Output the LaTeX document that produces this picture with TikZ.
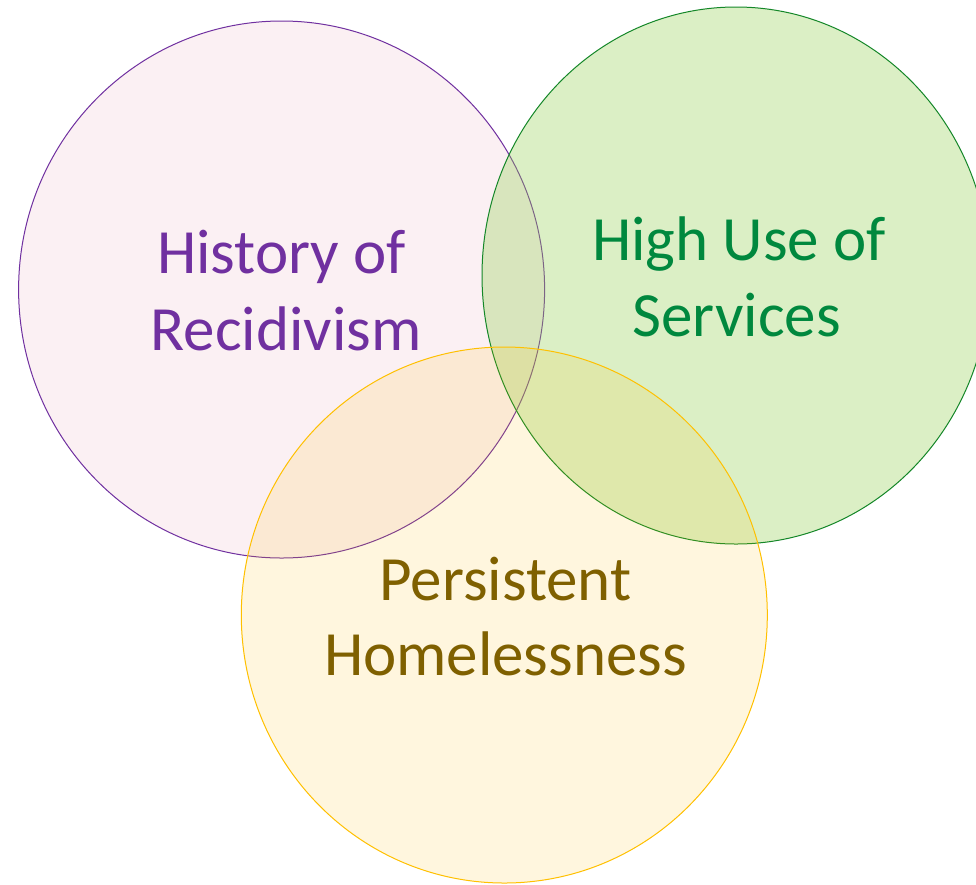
\documentclass[tikz,border=0pt]{standalone}
\usepackage{fontspec}
\setmainfont{Carlito}
\definecolor{purpline}{HTML}{7030A0}
\definecolor{purpfill}{RGB}{243,210,219}
\definecolor{grnline}{RGB}{20,135,40}
\definecolor{grnfill}{RGB}{146,208,80}
\definecolor{grntext}{RGB}{0,136,62}
\definecolor{yelline}{HTML}{FFC000}
\definecolor{yelfill}{HTML}{FFC000}
\definecolor{browntext}{HTML}{7F6000}
\begin{document}
\begin{tikzpicture}[x=1pt,y=-1pt,
  setcircle/.style={line width=1pt},
  lbl/.style={anchor=base,inner sep=0pt,font=\fontsize{63}{76}\selectfont}]
\useasboundingbox (0,0) rectangle (976,884);
\fill[white] (0,0) rectangle (976,884);
% circles
\draw[setcircle,draw=purpline,fill=purpfill,fill opacity=0.33] (281.6,289.5) ellipse [x radius=263pt, y radius=268.5pt];
\draw[setcircle,draw=grnline,fill=grnfill,fill opacity=0.33] (736,275.5) ellipse [x radius=254pt, y radius=268.5pt];
\draw[setcircle,draw=yelline,fill=yelfill,fill opacity=0.13] (504.3,615) ellipse [x radius=263pt, y radius=268pt];
% labels
\node[lbl,text=purpline] (hist1) at (281.5,273) {History of};
\node[lbl,text=purpline] (hist2) at (286,350) {Recidivism};
\node[lbl,text=grntext] (high1) at (739,260) {High Use of};
\node[lbl,text=grntext] (high2) at (736.5,336) {Services};
\node[lbl,text=browntext] (pers1) at (505.5,600) {Persistent};
\node[lbl,text=browntext] (pers2) at (505.5,675) {Homelessness};
\end{tikzpicture}
\end{document}
